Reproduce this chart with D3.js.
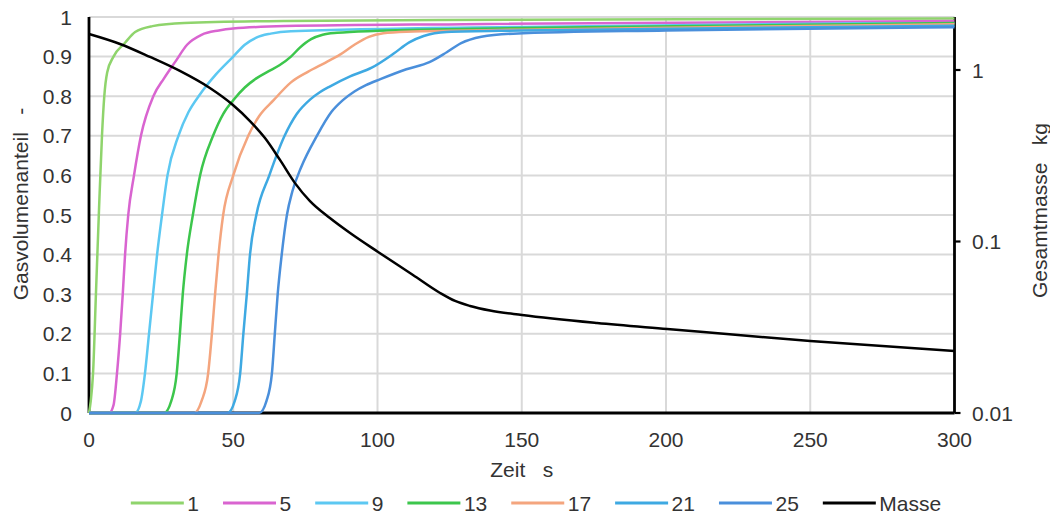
<!DOCTYPE html>
<html><head><meta charset="utf-8">
<script src="https://cdn.jsdelivr.net/npm/d3@7"></script>
<style>
body{margin:0;background:#fff;}
svg text{font-family:"Liberation Sans",Arial,sans-serif;font-size:21px;fill:#333;white-space:pre;}
</style></head><body>
<svg id="c" width="1050" height="515"></svg>
<script>
// ---- data ----
const xTicks = [0, 50, 100, 150, 200, 250, 300];
const yTicks = [0, 0.1, 0.2, 0.3, 0.4, 0.5, 0.6, 0.7, 0.8, 0.9, 1];
const yTickLabels = ["0", "0.1", "0.2", "0.3", "0.4", "0.5", "0.6", "0.7", "0.8", "0.9", "1"];
const massTicks = [0.01, 0.1, 1];
const massTickLabels = ["0.01", "0.1", "1"];
const seriesNames = ["1", "5", "9", "13", "17", "21", "25"];
const seriesColors = ["#8fd46c", "#d964d0", "#5cc8f2", "#3cc64c", "#f4a57e", "#3ea9e2", "#4a8fdb"];

const t1 = [0, 0.6, 1.4, 2.4, 3.5, 4.5, 5.3, 6.3, 8.5, 12.5, 16, 22, 33, 68, 150, 300];
const v1 = [0, 0.03, 0.1, 0.3, 0.52, 0.7, 0.8, 0.86, 0.9, 0.935, 0.962, 0.977, 0.985, 0.99, 0.993, 0.996];
const t5 = [0, 7, 8.5, 9.7, 10.8, 11.7, 12.5, 13.6, 15.6, 18, 22.3, 26, 30, 34, 39, 45, 50, 68, 130, 300];
const v5 = [0, 0, 0.02, 0.1, 0.2, 0.3, 0.4, 0.5, 0.6, 0.7, 0.8, 0.845, 0.888, 0.93, 0.955, 0.966, 0.971, 0.977, 0.982, 0.99];
const t9 = [0, 16, 18, 19.4, 20.8, 22.2, 23.6, 25.3, 27.2, 31, 34.5, 38.5, 44, 50, 54, 58, 63, 70, 150, 300];
const v9 = [0, 0, 0.03, 0.1, 0.2, 0.3, 0.4, 0.5, 0.6, 0.7, 0.76, 0.805, 0.855, 0.9, 0.93, 0.948, 0.958, 0.964, 0.975, 0.987];
const t13 = [0, 26, 28.5, 30.4, 31.5, 32.5, 33.9, 36, 38.5, 43, 46.5, 50, 54, 58, 62, 66, 70, 73, 77, 81, 86, 100, 150, 300];
const v13 = [0, 0, 0.03, 0.1, 0.2, 0.3, 0.4, 0.5, 0.6, 0.7, 0.755, 0.79, 0.822, 0.845, 0.862, 0.878, 0.9, 0.922, 0.944, 0.955, 0.96, 0.965, 0.972, 0.985];
const t17 = [0, 36.5, 39, 41.3, 42.6, 43.7, 44.9, 46.5, 50, 55.2, 59, 64, 70, 76, 82, 87, 92, 97, 102, 110, 150, 300];
const v17 = [0, 0, 0.03, 0.1, 0.2, 0.3, 0.4, 0.5, 0.6, 0.7, 0.75, 0.79, 0.835, 0.862, 0.885, 0.905, 0.93, 0.95, 0.959, 0.963, 0.968, 0.982];
const t21 = [0, 48, 50.5, 52.4, 53.5, 54.7, 55.8, 58, 62.5, 67.8, 72, 76.7, 80, 83.6, 90.5, 98, 105.5, 111, 116, 124, 150, 300];
const v21 = [0, 0, 0.03, 0.1, 0.2, 0.3, 0.4, 0.5, 0.6, 0.7, 0.755, 0.792, 0.81, 0.825, 0.85, 0.872, 0.907, 0.936, 0.952, 0.962, 0.966, 0.978];
const t25 = [0, 59, 61.5, 63.4, 64.4, 65.4, 66.8, 68.6, 70.5, 73.5, 79, 84, 88, 92, 96, 101, 110, 118, 124, 129, 136, 147, 200, 300];
const v25 = [0, 0, 0.03, 0.1, 0.2, 0.3, 0.4, 0.5, 0.56, 0.62, 0.7, 0.76, 0.79, 0.812, 0.828, 0.843, 0.868, 0.886, 0.911, 0.934, 0.95, 0.958, 0.966, 0.974];
const seriesT = [t1, t5, t9, t13, t17, t21, t25];
const seriesV = [v1, v5, v9, v13, v17, v21, v25];

const tMasse = [0, 10.75, 21.15, 31.5, 41.9, 49.9, 55.8, 61, 66.2, 71.4, 76.6, 83.5, 90.5, 100.2, 112.3, 121.7, 126.9, 132.1, 139, 150.1, 176.1, 200.4, 250, 300];
const masse = [1.621, 1.418, 1.191, 0.987, 0.785, 0.625, 0.504, 0.401, 0.299, 0.219, 0.172, 0.137, 0.112, 0.0869, 0.0638, 0.0501, 0.045, 0.0421, 0.0396, 0.0373, 0.0335, 0.0309, 0.0263, 0.023];

// ---- layout ----
const L = 89, R = 954.5, T = 17, B = 413;
const svg = d3.select("#c");
const x = d3.scaleLinear().domain([0, 300]).range([L, R]);
const y = d3.scaleLinear().domain([0, 1]).range([B, T]);
const yM = d3.scaleLog().domain([0.01, Math.pow(10, (B - T) / 171.5 - 2)]).range([B, T]);

const grid = svg.append("g").attr("stroke", "#d9d9d9").attr("stroke-width", 2);
yTicks.filter(d => d > 0).forEach(d => grid.append("line").attr("x1", L).attr("x2", R).attr("y1", y(d)).attr("y2", y(d)));
xTicks.filter(d => d > 0 && d < 300).forEach(d => grid.append("line").attr("x1", x(d)).attr("x2", x(d)).attr("y1", T).attr("y2", B));

// axes lines
const ax = svg.append("g").attr("stroke", "#000").attr("stroke-width", 2.8);
ax.append("line").attr("x1", L).attr("x2", L).attr("y1", T).attr("y2", B);
ax.append("line").attr("x1", L).attr("x2", R).attr("y1", B).attr("y2", B);
ax.append("line").attr("x1", R).attr("x2", R).attr("y1", T).attr("y2", B);
massTicks.forEach(d => ax.append("line").attr("x1", R).attr("x2", R + 6).attr("y1", yM(d)).attr("y2", yM(d)).attr("stroke-width", 2.2));

// tick labels
yTicks.forEach((d, i) => svg.append("text").attr("x", 72).attr("y", y(d) + 7.5).attr("text-anchor", "end").text(yTickLabels[i]));
xTicks.forEach(d => svg.append("text").attr("x", x(d)).attr("y", 447).attr("text-anchor", "middle").text(d));
massTicks.forEach((d, i) => svg.append("text").attr("x", 972).attr("y", yM(d) + 7.5).attr("text-anchor", "start").text(massTickLabels[i]));

// axis titles
svg.append("text").attr("transform", "translate(28,204) rotate(-90)").attr("text-anchor", "middle").text("Gasvolumenanteil   -");
svg.append("text").attr("transform", "translate(1047,210.5) rotate(-90)").attr("text-anchor", "middle").text("Gesamtmasse   kg");
svg.append("text").attr("x", (L + R) / 2).attr("y", 477).attr("text-anchor", "middle").text("Zeit   s");

// series
const line = d3.line().x(d => x(d[0])).y(d => y(d[1])).curve(d3.curveMonotoneX);
seriesT.forEach((ts, i) => {
  const pts = ts.map((t, j) => [t, seriesV[i][j]]);
  svg.append("path").datum(pts).attr("d", line).attr("fill", "none")
    .attr("stroke", seriesColors[i]).attr("stroke-width", 2.5).attr("stroke-linejoin", "round");
});
const lineM = d3.line().x(d => x(d[0])).y(d => yM(d[1])).curve(d3.curveMonotoneX);
svg.append("path").datum(tMasse.map((t, j) => [t, masse[j]])).attr("d", lineM)
  .attr("fill", "none").attr("stroke", "#000").attr("stroke-width", 2.5);

// legend
const legNames = seriesNames.concat(["Masse"]);
const legColors = seriesColors.concat(["#000"]);
const lg = svg.append("g");
const items = legNames.map((n, i) => {
  const g = lg.append("g");
  g.append("line").attr("x1", 0).attr("x2", 53).attr("y1", 503).attr("y2", 503).attr("stroke", legColors[i]).attr("stroke-width", 3);
  const tx = g.append("text").attr("x", 56.5).attr("y", 511).text(n);
  return {g, w: 56.5 + tx.node().getComputedTextLength()};
});
const gap = 24;
const total = d3.sum(items, d => d.w) + gap * (items.length - 1);
let cx = 536 - total / 2;
items.forEach(it => { it.g.attr("transform", `translate(${cx},0)`); cx += it.w + gap; });
</script>
</body></html>
